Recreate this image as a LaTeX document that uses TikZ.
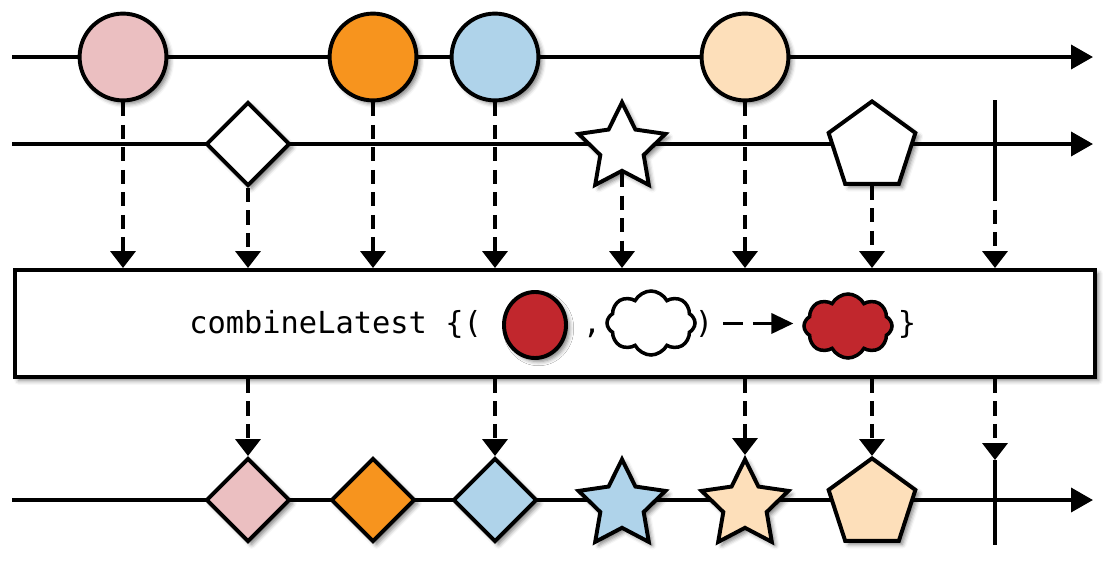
\documentclass[tikz,border=0pt]{standalone}
\usepackage{fontspec}
\setmonofont{DejaVu Sans Mono}
\usepackage{tikz}
\usetikzlibrary{arrows.meta,positioning,shapes.geometric,shapes.symbols,shadows.blur}
\definecolor{mbpink}{HTML}{EBBFC1}
\definecolor{mborange}{HTML}{F7941E}
\definecolor{mbblue}{HTML}{AFD3EA}
\definecolor{mbpeach}{HTML}{FDDFBA}
\definecolor{mbred}{HTML}{C1272D}

\begin{document}
\begin{tikzpicture}[
  x=0.025cm, y=-0.025cm,
  soft/.style={blur shadow={shadow xshift=2.5pt, shadow yshift=-2.5pt, shadow blur radius=3pt, shadow opacity=50}},
  ball/.style={circle, draw, line width=2.8pt, minimum size=2.17cm, inner sep=0, soft},
  gem/.style={diamond, draw, line width=2.8pt, minimum width=2.1cm, minimum height=2.1cm, inner sep=0, soft},
  starm/.style={star, star points=5, star point ratio=2.0, draw, line width=2.8pt, minimum size=2.28cm, inner sep=0, soft},
  pent/.style={regular polygon, regular polygon sides=5, draw, line width=2.8pt, minimum size=2.28cm, inner sep=0, soft},
  puff/.style={cloud, cloud puffs=8, cloud puff arc=125, aspect=1.4, draw, line width=2.5pt, minimum width=2.2cm, minimum height=1.6cm, inner sep=0},
  op/.style={draw, line width=2.8pt, fill=white, minimum width=27cm, minimum height=2.675cm, soft},
  code/.style={font=\fontsize{21.6}{26}\selectfont\ttfamily, inner sep=0},
  timeline/.style={line width=2.6pt, -{Triangle[length=0.55cm, width=0.6cm]}},
  feed/.style={line width=2.5pt, dash pattern=on 10pt off 6pt, -{Triangle[length=0.42cm, width=0.62cm]}},
  stopmark/.style={line width=2.6pt}
]
\useasboundingbox (0,0) rectangle (1120,572);

% time lines
\coordinate (s1) at (12,57);  \coordinate (e1) at (1093,57);
\coordinate (s2) at (12,144); \coordinate (e2) at (1093,144);
\coordinate (s3) at (12,500); \coordinate (e3) at (1093,500);
\draw[timeline] (s1) -- (e1);
\draw[timeline] (s2) -- (e2);
\draw[timeline] (s3) -- (e3);

% first source
\node[ball, fill=mbpink] (a1) at (123,57) {};
\node[ball, fill=mborange] (a2) at (373,57) {};
\node[ball, fill=mbblue] (a3) at (495,57) {};
\node[ball, fill=mbpeach] (a4) at (745,57) {};

% second source
\node[gem, fill=white] (b1) at (248,144) {};
\node[starm, fill=white] (b2) at (622,148) {};
\node[pent, fill=white] (b3) at (872,147) {};
\coordinate (b4top) at (995,100);
\coordinate (b4bot) at (995,187);
\draw[stopmark] (b4top) -- (b4bot);

% operator
\node[op] (op) at (555,323.5) {};
\node[code, anchor=base west] (fn) at (189,333) {combineLatest \{(};
\node[ellipse, draw, line width=2.8pt, fill=mbred, minimum width=1.55cm, minimum height=1.65cm, inner sep=0, soft] (pa) at (535,325) {};
\node[code, anchor=base] (comma) at (592,333) {,};
\node[puff, fill=white] (pb) at (651,323) {};
\node[code, anchor=base] (rpar) at (704,333) {)};
\node[puff, fill=mbred] (pc) at (848,326) {};
\node[code, anchor=base] (rbr) at (907,333) {\}};
\draw[line width=2.5pt, dash pattern=on 14pt off 7pt, -{Triangle[length=0.55cm, width=0.5cm]}, shorten <=0.25cm, shorten >=0.22cm] (rpar.east) -- (rpar.east -| pc.west);

\draw[feed] (a1) -- (a1 |- op.north);
\draw[feed] (b1) -- (b1 |- op.north);
\draw[feed] (a2) -- (a2 |- op.north);
\draw[feed] (a3) -- (a3 |- op.north);
\draw[feed] (b2) -- (b2 |- op.north);
\draw[feed] (a4) -- (a4 |- op.north);
\draw[feed] (b3) -- (b3 |- op.north);
\draw[feed] (b4bot) -- (b4bot |- op.north);

% result
\node[gem, fill=mbpink] (c1) at (248,500) {};
\node[gem, fill=mborange] (c2) at (373,500) {};
\node[gem, fill=mbblue] (c3) at (495,500) {};
\node[starm, fill=mbblue] (c4) at (622,505) {};
\node[starm, fill=mbpeach] (c5) at (745,505) {};
\node[pent, fill=mbpeach] (c6) at (872,504) {};
\coordinate (c7top) at (995,460);
\coordinate (c7bot) at (995,545);
\draw[stopmark] (c7top) -- (c7bot);

\draw[feed] (c1 |- op.south) -- (c1);
\draw[feed] (c3 |- op.south) -- (c3);
\draw[feed] (c5 |- op.south) -- (c5);
\draw[feed] (c6 |- op.south) -- (c6);
\draw[feed] (c7top |- op.south) -- (c7top);
\end{tikzpicture}
\end{document}
